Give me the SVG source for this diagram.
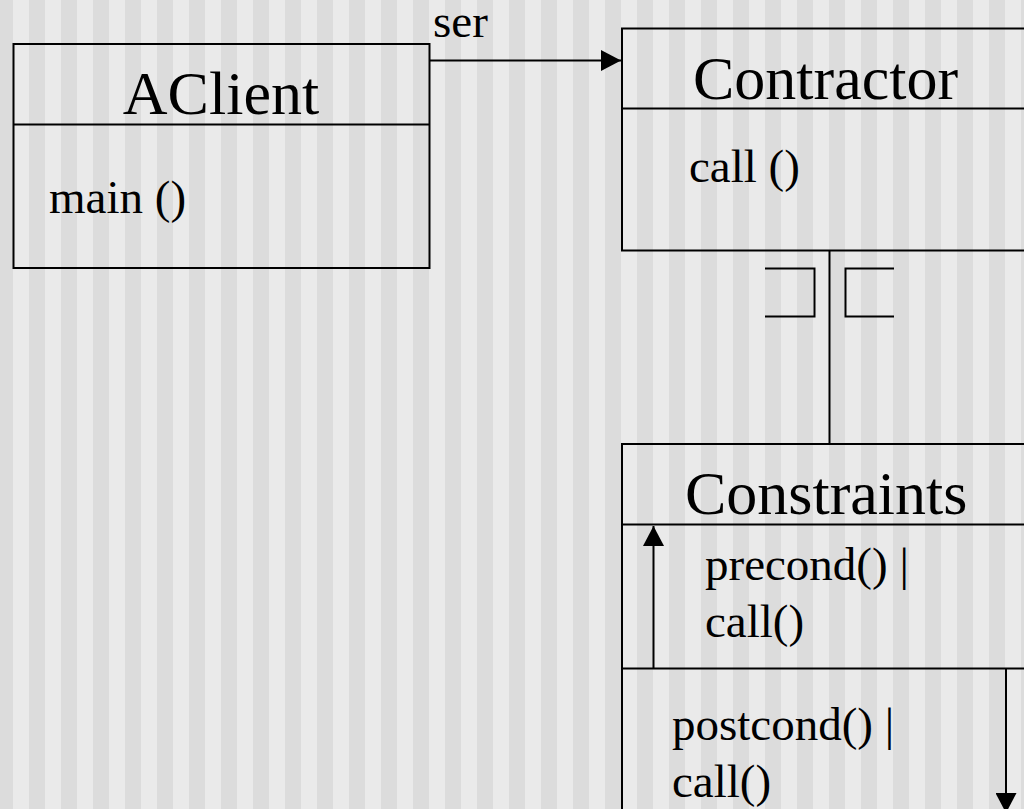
<svg xmlns="http://www.w3.org/2000/svg" width="1024" height="809" viewBox="0 0 1024 809">
  <style>
    .box { fill: none; stroke: #000; stroke-width: 2; }
    .line { fill: none; stroke: #000; stroke-width: 2; }
    .title { font-family: "Liberation Serif", "Times New Roman", serif; font-size: 62px; fill: #000; }
    .member { font-family: "Liberation Serif", "Times New Roman", serif; font-size: 47px; fill: #000; }
  </style>
  <defs>
    <!-- vertical two-tone stripes, 32px period -->
    <pattern id="stripes" patternUnits="userSpaceOnUse" x="29" y="0" width="32" height="10">
      <rect x="0" y="0" width="16" height="10" fill="#dcdcdc"/>
      <rect x="16" y="0" width="16" height="10" fill="#eaeaea"/>
    </pattern>
    <marker id="arrow" viewBox="0 0 20 21" refX="20" refY="10.5" markerWidth="20" markerHeight="21" markerUnits="userSpaceOnUse" orient="auto">
      <path d="M0,0 L20,10.5 L0,21 Z" fill="#000"/>
    </marker>
  </defs>

  <rect x="0" y="0" width="1024" height="809" fill="url(#stripes)"/>

  <!-- AClient class -->
  <g id="aclient">
    <rect class="box" x="13.5" y="44" width="416" height="224"/>
    <line class="line" x1="13.5" y1="124.5" x2="429.5" y2="124.5"/>
    <text class="title" x="221" y="114" text-anchor="middle">AClient</text>
    <text class="member" x="49" y="213">main ()</text>
  </g>

  <!-- Contractor class -->
  <g id="contractor">
    <rect class="box" x="622" y="28.5" width="420" height="222"/>
    <line class="line" x1="622" y1="108.5" x2="1042" y2="108.5"/>
    <text class="title" x="693" y="99">Contractor</text>
    <text class="member" x="689" y="182">call ()</text>
  </g>

  <!-- Constraints class -->
  <g id="constraints">
    <rect class="box" x="622" y="444" width="420" height="400"/>
    <line class="line" x1="622" y1="524.5" x2="1042" y2="524.5"/>
    <line class="line" x1="622" y1="668.5" x2="1042" y2="668.5"/>
    <text class="title" x="685" y="514">Constraints</text>
    <text class="member" x="705" y="580">precond() |</text>
    <text class="member" x="705" y="637">call()</text>
    <text class="member" x="672" y="740">postcond() |</text>
    <text class="member" x="672" y="797">call()</text>
  </g>

  <!-- connectors -->
  <g id="connectors">
    <line class="line" x1="430" y1="60.5" x2="621" y2="60.5" marker-end="url(#arrow)"/>
    <text class="member" x="433" y="37">ser</text>

    <line class="line" x1="829.5" y1="251" x2="829.5" y2="444"/>
    <polyline class="line" points="765,268.5 814.5,268.5 814.5,316.5 765,316.5"/>
    <polyline class="line" points="894,268.5 845.5,268.5 845.5,316.5 894,316.5"/>

    <line class="line" x1="653.5" y1="668" x2="653.5" y2="526" marker-end="url(#arrow)"/>
    <line class="line" x1="1006" y1="669" x2="1006" y2="813" marker-end="url(#arrow)"/>
  </g>
</svg>
